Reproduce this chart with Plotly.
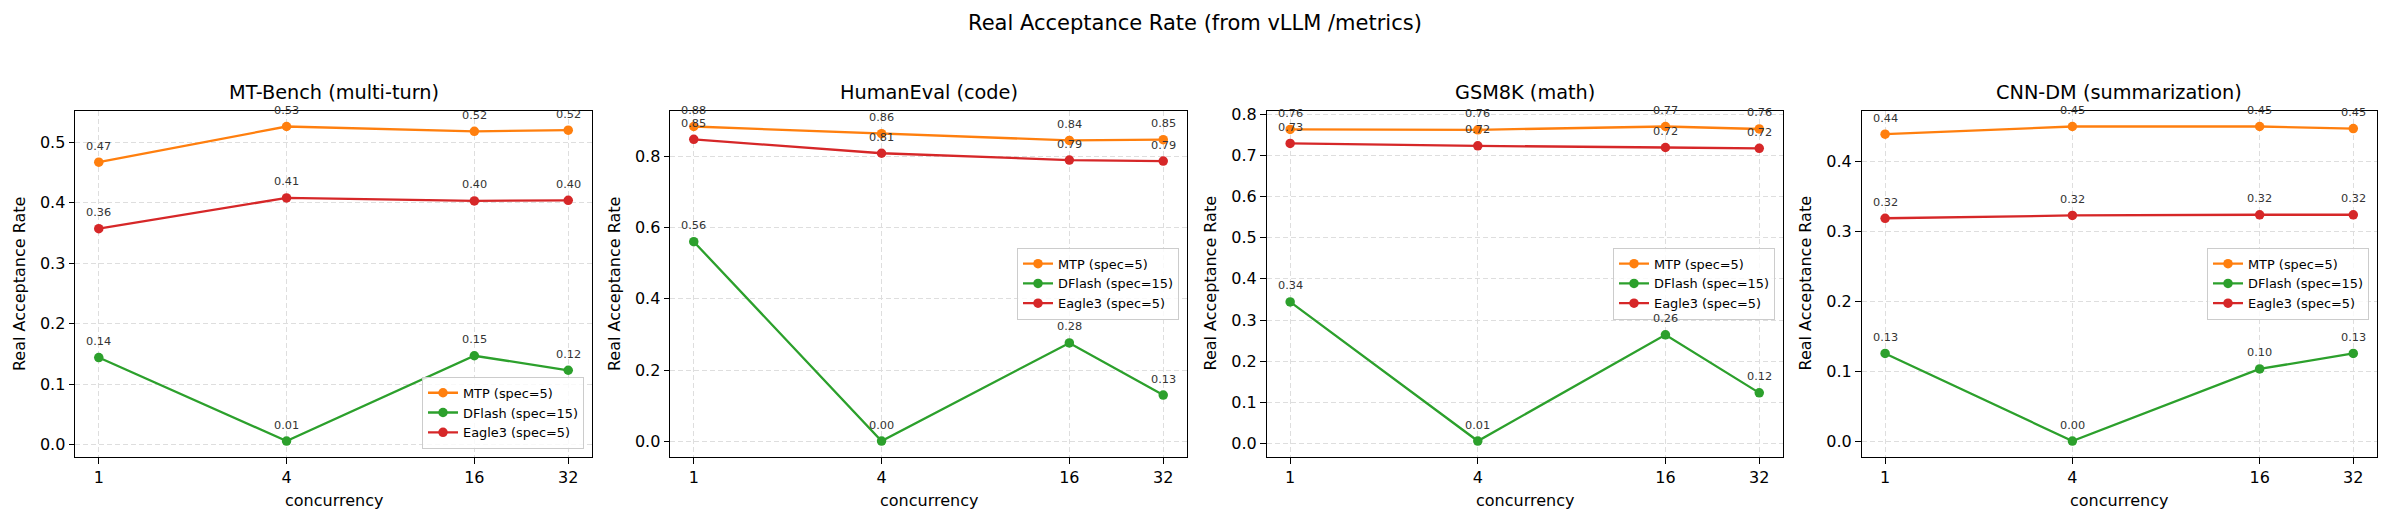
import math
import plotly.graph_objects as go

W, H = 2389, 522

# ---------------- data ----------------
concurrency = [1, 4, 16, 32]
x_tick_labels = ["1", "4", "16", "32"]

suptitle = "Real Acceptance Rate (from vLLM /metrics)"
panel_titles = ["MT-Bench (multi-turn)", "HumanEval (code)", "GSM8K (math)", "CNN-DM (summarization)"]
series_names = ["MTP (spec=5)", "DFlash (spec=15)", "Eagle3 (spec=5)"]
x_label = "concurrency"
y_label = "Real Acceptance Rate"

mtbench_mtp = [0.467, 0.526, 0.518, 0.520]
mtbench_dflash = [0.144, 0.006, 0.147, 0.123]
mtbench_eagle3 = [0.357, 0.408, 0.403, 0.404]

humaneval_mtp = [0.883, 0.863, 0.844, 0.846]
humaneval_dflash = [0.560, 0.001, 0.276, 0.130]
humaneval_eagle3 = [0.847, 0.808, 0.789, 0.786]

gsm8k_mtp = [0.763, 0.762, 0.770, 0.764]
gsm8k_dflash = [0.344, 0.006, 0.264, 0.123]
gsm8k_eagle3 = [0.729, 0.723, 0.719, 0.717]

cnndm_mtp = [0.439, 0.450, 0.450, 0.447]
cnndm_dflash = [0.126, 0.001, 0.104, 0.126]
cnndm_eagle3 = [0.319, 0.323, 0.324, 0.324]

y_tick_steps = [0.1, 0.2, 0.1, 0.1]

panels = [
    [mtbench_mtp, mtbench_dflash, mtbench_eagle3],
    [humaneval_mtp, humaneval_dflash, humaneval_eagle3],
    [gsm8k_mtp, gsm8k_dflash, gsm8k_eagle3],
    [cnndm_mtp, cnndm_dflash, cnndm_eagle3],
]

# ---------------- style / layout ----------------
colors = ["#ff7f0e", "#2ca02c", "#d62728"]
FONT = "DejaVu Sans"
panel_px = [(75.3, 591.7), (670.3, 1186.7), (1266.7, 1782.7), (1861.7, 2376.7)]
top_px, bottom_px = 106.0, 456.0
y_dom = [(H - bottom_px) / H, (H - top_px) / H]
legend_specs = [("bottom", 448.0), ("middle", 281.0), ("middle", 281.0), ("middle", 281.0)]

grid_color = "#dedede"

fig = go.Figure()
annotations = []
layout = dict(
    width=W, height=H,
    margin=dict(l=0, r=0, t=0, b=0),
    paper_bgcolor="white", plot_bgcolor="white",
    font=dict(family=FONT, color="black"),
    showlegend=True,
)

lx = [math.log10(c) for c in concurrency]
xpad = 0.05 * (lx[-1] - lx[0])
x_range = [lx[0] - xpad, lx[-1] + xpad]

for i, series in enumerate(panels):
    n = i + 1
    xa = "x" if n == 1 else f"x{n}"
    ya = "y" if n == 1 else f"y{n}"
    lg = "legend" if n == 1 else f"legend{n}"
    for name, vals, col in zip(series_names, series, colors):
        fig.add_trace(go.Scatter(
            x=concurrency, y=vals, name=name, mode="lines+markers",
            line=dict(color=col, width=2.3),
            marker=dict(color=col, size=9.5),
            xaxis=xa, yaxis=ya, legend=lg, hoverinfo="skip",
        ))
        for c, v in zip(concurrency, vals):
            annotations.append(dict(
                x=math.log10(c), y=v, xref=xa, yref=ya, text=f"{v:.2f}",
                showarrow=False, xanchor="center", yanchor="bottom", yshift=7.5,
                font=dict(family=FONT, size=11.3, color="#333333"),
            ))
    allv = [v for s in series for v in s]
    lo, hi = min(allv), max(allv)
    pad = 0.05 * (hi - lo)
    x0, x1 = panel_px[i]
    common = dict(
        showline=True, linecolor="black", linewidth=1.3, mirror=True,
        ticks="outside", ticklen=5.6, tickwidth=1.3, tickcolor="black",
        tickfont=dict(family=FONT, size=16, color="black"),
        showgrid=True, gridcolor=grid_color, gridwidth=1, griddash="5px,3px",
        zeroline=False,
    )
    layout[f"xaxis{'' if n == 1 else n}"] = dict(
        type="log", range=x_range, domain=[x0 / W, x1 / W], anchor=ya,
        tickmode="array", tickvals=concurrency, ticktext=x_tick_labels, **common)
    layout[f"yaxis{'' if n == 1 else n}"] = dict(
        range=[lo - pad, hi + pad], domain=y_dom, anchor=xa,
        tick0=0, dtick=y_tick_steps[i], tickformat=".1f", **common)
    # subplot title
    annotations.append(dict(
        x=(x0 + x1) / 2 / W, y=y_dom[1], xref="paper", yref="paper",
        text=panel_titles[i], showarrow=False, xanchor="center", yanchor="bottom",
        yshift=5, font=dict(family=FONT, size=19.3, color="black")))
    # axis titles
    annotations.append(dict(
        x=(x0 + x1) / 2 / W, y=(H - 500) / H, xref="paper", yref="paper",
        text=x_label, showarrow=False, xanchor="center", yanchor="middle",
        font=dict(family=FONT, size=16, color="black")))
    annotations.append(dict(
        x=(x0 - 56) / W, y=(y_dom[0] + y_dom[1]) / 2, xref="paper", yref="paper",
        text=y_label, showarrow=False, xanchor="center", yanchor="middle", textangle=-90,
        font=dict(family=FONT, size=16, color="black")))
    # legend
    yanch, ypx = legend_specs[i]
    layout[lg] = dict(
        x=(x1 - 7.7) / W, y=(H - ypx) / H, xanchor="right", yanchor=yanch,
        bgcolor="rgba(255,255,255,0.8)", bordercolor="#cccccc", borderwidth=1,
        font=dict(family=FONT, size=12.9, color="black"), itemwidth=30,
    )

annotations.append(dict(
    x=0.5, y=(H - 31.7) / H, xref="paper", yref="paper", text=suptitle,
    showarrow=False, xanchor="center", yanchor="bottom",
    font=dict(family=FONT, size=21, color="black")))

layout["annotations"] = annotations
fig.update_layout(**layout)
fig.write_html("out.html")
